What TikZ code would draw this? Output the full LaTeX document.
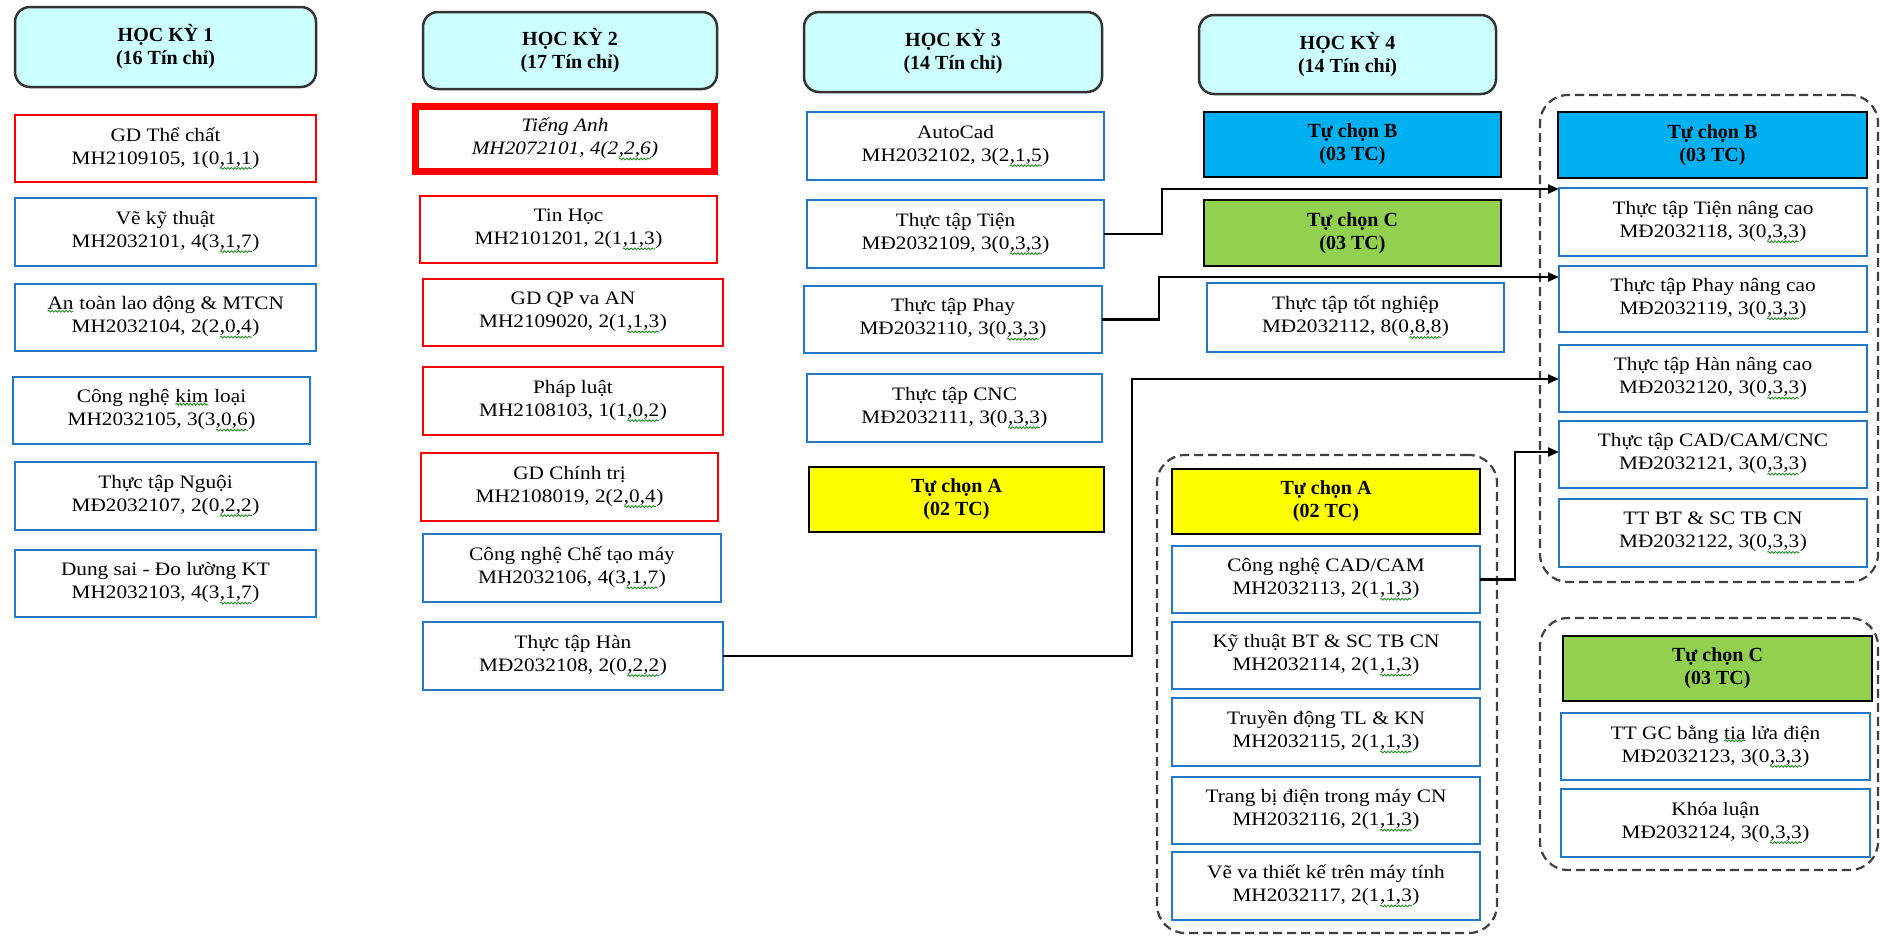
\documentclass[tikz,border=0pt]{standalone}
\usepackage{fontspec}
\setmainfont{Liberation Serif}
\newfontfamily\bodyfont{Liberation Serif}[FakeStretch=1.12]
\usetikzlibrary{arrows.meta,decorations.pathmorphing}

\definecolor{redline}{RGB}{255,0,0}
\definecolor{blueline}{RGB}{35,120,200}
\definecolor{headfill}{RGB}{204,255,255}
\definecolor{optA}{RGB}{255,255,0}
\definecolor{optB}{RGB}{0,176,240}
\definecolor{optC}{RGB}{146,208,80}
\definecolor{squig}{RGB}{40,140,40}

\tikzset{
  base/.style={inner sep=0pt, outer sep=0pt, align=center,
    font=\bodyfont\fontsize{19}{23}\selectfont},
  course/.style={base, draw=blueline, line width=2.5pt, fill=white},
  core/.style={base, draw=redline, line width=2.5pt, fill=white},
  corethick/.style={base, draw=redline, line width=7pt, fill=white,
    font=\bodyfont\itshape\fontsize{19}{23}\selectfont},
  term/.style={base, draw=black!80, line width=2.5pt, fill=headfill,
    rounded corners=15pt, font=\bfseries\fontsize{20}{23}\selectfont},
  pick/.style={base, draw=black, line width=2.5pt,
    font=\bfseries\fontsize{20}{23}\selectfont},
  group/.style={inner sep=0pt, outer sep=0pt, draw=black!75, line width=2.2pt,
    dash pattern=on 9pt off 5pt, rounded corners=28pt},
  link/.style={draw=black, line width=2.2pt, -{Triangle[length=11pt,width=9pt]}},
  wavy/.style={draw=squig, line width=0.9pt, solid, sharp corners, decorate,
    decoration={snake, amplitude=0.9pt, segment length=3.5pt}},
  plainword/.style={font={}, inner sep=0pt, outer sep=0pt, minimum width=0pt,
    minimum height=0pt, draw=none, fill=none, shape=rectangle, align=left}
}

% green wavy proofing underline below a piece of text
\newcommand\wv[1]{\tikz[baseline=(w.base)]{\node[plainword] (w) {#1};
  \draw[wavy] ([yshift=-1.5pt]w.south west) -- ([yshift=-1.5pt]w.south east);}}

% \placebox{name}{x1}{y1}{x2}{y2}{style}{text}
\newcommand\placebox[7]{\node[#6, minimum width={#4-#2}, minimum height={#5-#3}]
  (#1) at ({(#2+#4)/2},{(#3+#5)/2}) {#7};}

\begin{document}
\begin{tikzpicture}[x=1pt,y=-1pt]
\fill[white] (0,0) rectangle (1881,937);
\useasboundingbox (0,0) rectangle (1881,937);

% ---- semester 1
\placebox{h1}{15}{7}{316}{87}{term}{HỌC KỲ 1\\(16 Tín chỉ)}
\placebox{s1a}{15}{115}{316}{182}{core}{GD Thể chất\\MH2109105, 1(0\wv{,1,1})}
\placebox{s1b}{15}{198}{316}{266}{course}{Vẽ kỹ thuật\\MH2032101, 4(3\wv{,1,7})}
\placebox{s1c}{15}{284}{316}{351}{course}{\wv{An} toàn lao động \& MTCN\\MH2032104, 2(2\wv{,0,4})}
\placebox{s1d}{13}{377}{310}{444}{course}{Công nghệ \wv{kim} loại\\MH2032105, 3(3\wv{,0,6})}
\placebox{s1e}{15}{462}{316}{530}{course}{Thực tập Nguội\\MĐ2032107, 2(0\wv{,2,2})}
\placebox{s1f}{15}{550}{316}{617}{course}{Dung sai - Đo lường KT\\MH2032103, 4(3\wv{,1,7})}

% ---- semester 2
\placebox{h2}{423}{12}{717}{89}{term}{HỌC KỲ 2\\(17 Tín chỉ)}
\placebox{s2a}{415.5}{106.5}{714.5}{171.5}{corethick}{Tiếng Anh\\MH2072101, 4(2\wv{,2,6})}
\placebox{s2b}{420}{196}{717}{263}{core}{Tin Học\\MH2101201, 2(1\wv{,1,3})}
\placebox{s2c}{423}{279}{723}{346}{core}{GD QP va AN\\MH2109020, 2(1\wv{,1,3})}
\placebox{s2d}{423}{367}{723}{435}{core}{Pháp luật\\MH2108103, 1(1\wv{,0,2})}
\placebox{s2e}{421}{453}{718}{521}{core}{GD Chính trị\\MH2108019, 2(2\wv{,0,4})}
\placebox{s2f}{423}{534}{721}{602}{course}{Công nghệ Chế tạo máy\\MH2032106, 4(3\wv{,1,7})}
\placebox{s2g}{423}{622}{723}{690}{course}{Thực tập Hàn\\MĐ2032108, 2(0\wv{,2,2})}

% ---- semester 3
\placebox{h3}{804}{12}{1102}{92}{term}{HỌC KỲ 3\\(14 Tín chỉ)}
\placebox{s3a}{807}{112}{1104}{180}{course}{AutoCad\\MH2032102, 3(2\wv{,1,5})}
\placebox{s3b}{807}{200}{1104}{268}{course}{Thực tập Tiện\\MĐ2032109, 3(0\wv{,3,3})}
\placebox{s3c}{804}{286}{1102}{353}{course}{Thực tập Phay\\MĐ2032110, 3(0\wv{,3,3})}
\placebox{s3d}{807}{374}{1102}{442}{course}{Thực tập CNC\\MĐ2032111, 3(0\wv{,3,3})}
\placebox{s3e}{809}{467}{1104}{532}{pick, fill=optA}{Tự chọn A\\(02 TC)}

% ---- semester 4
\placebox{h4}{1199}{15}{1496}{94}{term}{HỌC KỲ 4\\(14 Tín chỉ)}
\placebox{s4a}{1204}{112}{1501}{177}{pick, fill=optB}{Tự chọn B\\(03 TC)}
\placebox{s4b}{1204}{200}{1501}{266}{pick, fill=optC}{Tự chọn C\\(03 TC)}
\placebox{s4c}{1207}{283}{1504}{352}{course}{Thực tập tốt nghiệp\\MĐ2032112, 8(0\wv{,8,8})}

% ---- elective group A
\placebox{gA}{1157}{455}{1497}{933}{group}{}
\placebox{a0}{1172}{469}{1480}{534}{pick, fill=optA}{Tự chọn A\\(02 TC)}
\placebox{a1}{1172}{546}{1480}{613}{course}{Công nghệ CAD/CAM\\MH2032113, 2(1\wv{,1,3})}
\placebox{a2}{1172}{622}{1480}{689}{course}{Kỹ thuật BT \& SC TB CN\\MH2032114, 2(1\wv{,1,3})}
\placebox{a3}{1172}{698}{1480}{766}{course}{Truyền động TL \& KN\\MH2032115, 2(1\wv{,1,3})}
\placebox{a4}{1172}{777}{1480}{844}{course}{Trang bị điện trong máy CN\\MH2032116, 2(1\wv{,1,3})}
\placebox{a5}{1172}{852}{1480}{920}{course}{Vẽ va thiết kế trên máy tính\\MH2032117, 2(1\wv{,1,3})}

% ---- elective group B
\placebox{gB}{1540}{95}{1878}{582}{group}{}
\placebox{b0}{1558}{112}{1867}{178}{pick, fill=optB}{Tự chọn B\\(03 TC)}
\placebox{b1}{1559}{188}{1867}{256}{course}{Thực tập Tiện nâng cao\\MĐ2032118, 3(0\wv{,3,3})}
\placebox{b2}{1559}{266}{1867}{332}{course}{Thực tập Phay nâng cao\\MĐ2032119, 3(0\wv{,3,3})}
\placebox{b3}{1559}{345}{1867}{412}{course}{Thực tập Hàn nâng cao\\MĐ2032120, 3(0\wv{,3,3})}
\placebox{b4}{1559}{421}{1867}{488}{course}{Thực tập CAD/CAM/CNC\\MĐ2032121, 3(0\wv{,3,3})}
\placebox{b5}{1559}{499}{1867}{567}{course}{TT BT \& SC TB CN\\MĐ2032122, 3(0\wv{,3,3})}

% ---- elective group C
\placebox{gC}{1540}{618}{1878}{870}{group}{}
\placebox{c0}{1563}{636}{1872}{701}{pick, fill=optC}{Tự chọn C\\(03 TC)}
\placebox{c1}{1561}{713}{1870}{780}{course}{TT GC bằng \wv{tia} lửa điện\\MĐ2032123, 3(0\wv{,3,3})}
\placebox{c2}{1561}{789}{1870}{857}{course}{Khóa luận\\MĐ2032124, 3(0\wv{,3,3})}

% ---- prerequisite links
\coordinate (j1) at (1162,189);
\coordinate (j2) at (1159,277);
\coordinate (j3) at (1132,379);
\coordinate (j4) at (1515,452);
\draw[link] (s3b.east) -| (j1) -- (b1.west |- j1);
\draw[link] (s3c.east) -| (j2) -- (b2.west |- j2);
\draw[link] (s2g.east) -| (j3) -- (b3.west |- j3);
\draw[link] (a1.east) -| (j4) -- (b4.west |- j4);
\end{tikzpicture}
\end{document}
